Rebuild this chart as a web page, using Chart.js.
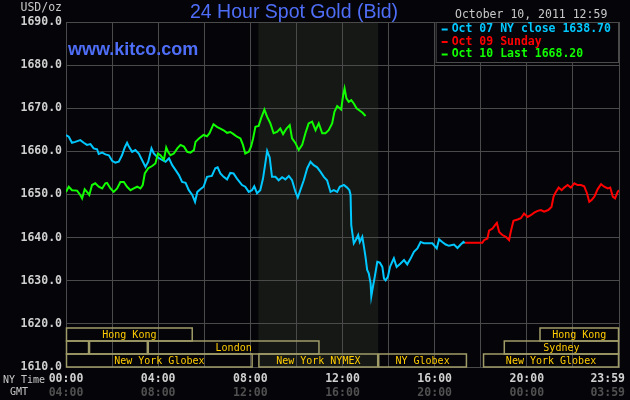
<!DOCTYPE html>
<html>
<head>
<meta charset="utf-8">
<title>24 Hour Spot Gold (Bid)</title>
<script src="https://cdn.jsdelivr.net/npm/chart.js@4.4.0/dist/chart.umd.min.js"></script>
<style>
  html, body { margin: 0; padding: 0; background: #050409; }
  #wrap { width: 630px; height: 400px; }
</style>
</head>
<body>
<div id="wrap"><canvas id="goldChart" width="630" height="400"></canvas></div>
<script>
// hours after midnight (NY time) and bid price in USD/oz
var oct07Hours = [0.00,0.12,0.26,0.40,0.62,0.77,0.91,1.06,1.20,1.35,1.42,1.57,1.71,1.86,2.00,2.14,2.29,2.43,2.55,2.65,
  2.73,2.87,3.01,3.16,3.30,3.45,3.57,3.71,3.81,3.96,4.17,4.32,4.47,4.61,4.75,4.90,5.04,5.19,5.33,5.48,
  5.60,5.70,5.83,5.97,6.12,6.33,6.48,6.58,6.70,6.84,6.99,7.13,7.27,7.42,7.64,7.78,7.93,8.07,8.17,8.29,
  8.43,8.55,8.65,8.73,8.84,8.94,9.09,9.23,9.38,9.52,9.67,9.81,9.96,10.06,10.17,10.32,10.47,10.61,10.75,10.90,
  11.04,11.19,11.33,11.48,11.62,11.77,11.88,12.06,12.20,12.30,12.35,12.38,12.43,12.49,12.57,12.68,12.75,12.86,12.93,13.00,
  13.07,13.14,13.22,13.25,13.32,13.40,13.51,13.62,13.73,13.80,13.87,13.97,14.06,14.16,14.23,14.35,14.52,14.67,14.81,14.96,
  15.10,15.25,15.39,15.53,15.75,15.90,16.09,16.19,16.33,16.48,16.62,16.84,16.99,17.13,17.25,17.30];
var oct07Prices = [1663.8,1663.4,1662.0,1662.2,1662.6,1662.0,1661.5,1661.7,1660.7,1660.5,1659.4,1659.7,1659.3,1659.1,1657.8,1657.4,1657.6,1659.1,1660.9,1662.0,
  1661.1,1659.9,1660.3,1659.5,1658.0,1656.4,1657.6,1660.7,1659.5,1658.7,1658.0,1657.6,1658.4,1656.8,1655.7,1654.5,1652.9,1652.7,1651.0,1649.9,
  1648.3,1650.6,1651.2,1651.8,1654.1,1654.3,1656.1,1656.3,1654.9,1654.1,1653.5,1655.0,1654.9,1653.7,1652.2,1651.8,1650.6,1651.0,1651.9,1650.3,
  1651.0,1653.7,1657.2,1660.1,1658.6,1654.1,1654.1,1653.3,1654.0,1653.5,1654.3,1653.3,1650.6,1649.3,1651.0,1653.3,1656.1,1657.6,1656.8,1656.3,
  1655.3,1654.1,1653.3,1650.6,1651.0,1650.6,1651.8,1652.2,1651.6,1651.0,1649.9,1642.9,1641.0,1638.7,1639.4,1640.6,1639.0,1640.2,1637.9,1635.5,
  1632.5,1631.7,1629.4,1626.4,1628.6,1630.9,1634.4,1634.2,1633.2,1630.5,1630.1,1630.9,1633.2,1634.4,1635.2,1633.2,1634.0,1634.8,1633.8,1635.2,
  1636.7,1637.5,1639.0,1638.7,1638.7,1638.7,1637.5,1639.6,1639.0,1638.4,1638.1,1638.4,1637.6,1638.4,1639.0,1638.7];

var oct09Hours = [17.30,18.07,18.14,18.29,18.36,18.51,18.62,18.70,18.80,18.94,19.09,19.23,19.30,19.42,19.60,19.74,19.88,20.03,20.17,20.32,
  20.47,20.61,20.75,20.93,21.07,21.16,21.26,21.38,21.51,21.62,21.77,21.91,22.06,22.20,22.35,22.49,22.61,22.71,22.81,22.93,
  23.07,23.22,23.36,23.51,23.62,23.73,23.83,23.94,24.00];
var oct09Prices = [1638.8,1638.8,1639.4,1639.8,1641.6,1642.1,1642.9,1643.4,1641.3,1640.6,1640.2,1639.4,1641.3,1643.9,1644.2,1644.5,1645.6,1644.8,1645.2,1645.8,
  1646.2,1646.4,1646.0,1646.4,1647.1,1649.5,1650.6,1651.6,1651.0,1651.6,1652.2,1651.6,1652.6,1652.2,1652.2,1651.9,1650.3,1648.3,1648.7,1649.5,
  1651.2,1652.4,1651.8,1651.4,1651.6,1649.5,1649.1,1650.6,1651.0];

var oct10Hours = [0.00,0.12,0.26,0.48,0.62,0.70,0.81,0.91,1.01,1.13,1.27,1.42,1.57,1.71,1.78,1.93,2.07,2.22,2.36,2.51,
  2.65,2.80,2.94,3.09,3.23,3.33,3.42,3.57,3.74,3.88,3.99,4.10,4.25,4.35,4.43,4.53,4.68,4.83,4.97,5.12,
  5.26,5.40,5.55,5.62,5.77,5.97,6.12,6.23,6.40,6.55,6.70,6.84,6.99,7.13,7.27,7.42,7.57,7.68,7.78,7.93,
  8.03,8.12,8.22,8.36,8.47,8.61,8.73,8.87,9.01,9.16,9.30,9.42,9.57,9.71,9.81,9.96,10.10,10.25,10.39,10.53,
  10.68,10.83,10.97,11.12,11.26,11.40,11.55,11.65,11.77,11.88,11.94,12.03,12.09,12.17,12.27,12.38,12.49,12.61,12.71,12.86,13.00];
var oct10Prices = [1650.6,1651.8,1651.0,1650.9,1649.9,1649.1,1651.2,1650.6,1649.9,1652.2,1652.6,1651.8,1651.4,1652.6,1652.7,1651.4,1650.6,1651.4,1652.9,1652.9,
  1651.8,1651.0,1651.4,1651.8,1651.4,1652.2,1654.9,1656.1,1656.6,1657.2,1659.5,1659.1,1658.1,1660.9,1659.9,1659.1,1659.5,1660.7,1661.5,1661.1,
  1659.9,1659.7,1660.3,1662.2,1663.0,1663.8,1663.5,1664.2,1666.3,1665.7,1665.3,1664.9,1664.3,1664.5,1664.0,1663.4,1663.0,1661.5,1659.5,1659.9,
  1661.1,1663.0,1665.7,1665.9,1667.7,1669.7,1668.0,1666.5,1664.2,1664.5,1665.3,1664.0,1665.3,1666.1,1663.0,1661.9,1660.3,1661.5,1664.2,1666.5,
  1666.9,1664.9,1666.5,1664.2,1664.2,1664.9,1666.5,1669.2,1670.5,1670.0,1669.7,1673.1,1674.6,1672.3,1671.5,1671.9,1671.1,1670.0,1669.6,1669.0,1668.2];

var legendLabels = ["Oct 07 NY close 1638.70", "Oct 09 Sunday", "Oct 10 Last 1668.20"];

// x axis labels
var xLabelHours = [0, 4, 8, 12, 16, 20, 24];
var nyTimeLabels = ["00:00", "04:00", "08:00", "12:00", "16:00", "20:00", "23:59"];
var gmtLabels = ["04:00", "08:00", "12:00", "16:00", "20:00", "00:00", "03:59"];

// trading sessions (row 0 = top)
var sessionNames = ["Hong Kong", "", "", "London", "New York Globex", "New York NYMEX", "NY Globex", "New York Globex", "Sydney", "Hong Kong"];
var sessionRows  = [0, 1, 1, 1, 2, 2, 2, 2, 1, 0];
var sessionStart = [0, 0, 1.0, 3.55, 0, 8.35, 13.55, 18.1, 19.0, 20.55];
var sessionEnd   = [5.5, 1.0, 3.55, 11.0, 8.1, 13.55, 17.4, 24, 24, 24];
var nymexPitHours = [8.35, 13.55];

var BG = "#050409";
var GRID = "#4a4a4a";
var BLUE = "#00c8ff", RED = "#ff0000", GREEN = "#11ff00";
var MONO = "'DejaVu Sans Mono', monospace";

function toPoints(hours, prices) {
  var pts = [];
  for (var i = 0; i < hours.length; i++) pts.push({ x: hours[i], y: prices[i] });
  return pts;
}

var kitcoPlugin = {
  id: "kitco",
  beforeDraw: function (chart) {
    var c = chart.ctx, a = chart.chartArea, xs = chart.scales.x;
    c.save();
    c.fillStyle = BG;
    c.fillRect(0, 0, chart.width, chart.height);
    var x1 = xs.getPixelForValue(nymexPitHours[0]);
    var x2 = xs.getPixelForValue(nymexPitHours[1]);
    c.fillStyle = "#151815";
    c.fillRect(x1, a.top, x2 - x1, a.bottom - a.top);
    c.restore();
  },
  afterDraw: function (chart) {
    var c = chart.ctx, a = chart.chartArea, xs = chart.scales.x;
    c.save();

    // session boxes
    var rowH = 13;
    c.lineWidth = 1.5;
    c.strokeStyle = "#a09c68";
    c.textAlign = "center";
    c.textBaseline = "middle";
    c.font = "10px " + MONO;
    for (var i = 0; i < sessionNames.length; i++) {
      var bx1 = xs.getPixelForValue(sessionStart[i]);
      var bx2 = xs.getPixelForValue(sessionEnd[i]);
      var by = a.bottom - (3 - sessionRows[i]) * rowH;
      c.strokeRect(bx1 + 0.5, by, bx2 - bx1 - 1, rowH);
      if (sessionNames[i]) {
        c.fillStyle = "#ffcc00";
        c.fillText(sessionNames[i], (bx1 + bx2) / 2, by + rowH / 2 + 1);
      }
    }

    // legend box
    var lx = xs.getPixelForValue(16) + 1, ly = a.top;
    c.fillStyle = BG;
    c.fillRect(lx, ly, a.right - lx, 40);
    c.lineWidth = 1;
    c.strokeStyle = GRID;
    c.strokeRect(lx + 0.5, ly + 0.5, a.right - lx - 1, 40);
    var colors = [BLUE, RED, GREEN];
    c.textAlign = "left";
    c.font = "bold 11.5px " + MONO;
    for (var j = 0; j < legendLabels.length; j++) {
      var yy = ly + 7.5 + j * 12.5;
      c.fillStyle = colors[j];
      c.fillRect(lx + 6, yy - 1, 6, 2);
      c.fillText(legendLabels[j], lx + 16, yy);
    }

    // title and header texts
    c.textBaseline = "alphabetic";
    c.fillStyle = "#4f6ef7";
    c.font = "19.5px 'Liberation Sans', Arial, sans-serif";
    c.fillText("24 Hour Spot Gold (Bid)", 190, 17.5);
    c.font = "bold 18px 'Liberation Sans', Arial, sans-serif";
    c.fillText("www.kitco.com", 68, 55);
    c.fillStyle = "#c8c8c8";
    c.font = "11.5px " + MONO;
    c.fillText("October 10, 2011 12:59", 455, 18);
    c.textAlign = "right";
    c.textBaseline = "middle";
    c.fillText("USD/oz", 62, 8);

    // x labels
    c.textAlign = "left";
    c.font = "10px " + MONO;
    c.fillText("NY Time", 3, 380);
    c.fillText("GMT", 10, 392);
    c.textAlign = "center";
    c.font = "bold 11.5px " + MONO;
    for (var k = 0; k < xLabelHours.length; k++) {
      var px = xs.getPixelForValue(xLabelHours[k]);
      var w = c.measureText(nyTimeLabels[k]).width;
      if (px + w / 2 > chart.width - 5) px = chart.width - 5 - w / 2;
      c.fillStyle = "#d0d0d0";
      c.fillText(nyTimeLabels[k], px, 379.5);
      c.fillStyle = "#505050";
      c.fillText(gmtLabels[k], px, 393);
    }
    c.restore();
  }
};

var ctx = document.getElementById("goldChart");
var myChart = new Chart(ctx, {
  type: "line",
  data: {
    datasets: [
      { label: legendLabels[2], data: toPoints(oct10Hours, oct10Prices), borderColor: GREEN, borderWidth: 2, pointRadius: 0, tension: 0 },
      { label: legendLabels[0], data: toPoints(oct07Hours, oct07Prices), borderColor: BLUE, borderWidth: 2, pointRadius: 0, tension: 0 },
      { label: legendLabels[1], data: toPoints(oct09Hours, oct09Prices), borderColor: RED, borderWidth: 2, pointRadius: 0, tension: 0 }
    ]
  },
  options: {
    responsive: false,
    animation: false,
    devicePixelRatio: 1,
    layout: { padding: { top: 22, right: 11, left: 0, bottom: 0 } },
    plugins: { legend: { display: false }, tooltip: { enabled: false }, title: { display: false } },
    scales: {
      x: {
        type: "linear",
        min: 0,
        max: 24,
        ticks: { display: false, stepSize: 2 },
        grid: { color: GRID, drawTicks: false },
        border: { color: GRID },
        afterFit: function (s) { s.height = 33; }
      },
      y: {
        min: 1610,
        max: 1690,
        ticks: {
          stepSize: 10,
          padding: 4,
          color: "#d0d0d0",
          font: { family: "DejaVu Sans Mono", size: 11.5, weight: "bold" },
          callback: function (v) { return v.toFixed(1); }
        },
        grid: { color: GRID, drawTicks: false },
        border: { color: GRID },
        afterFit: function (s) { s.width = 66; }
      }
    }
  },
  plugins: [kitcoPlugin]
});
</script>
</body>
</html>
